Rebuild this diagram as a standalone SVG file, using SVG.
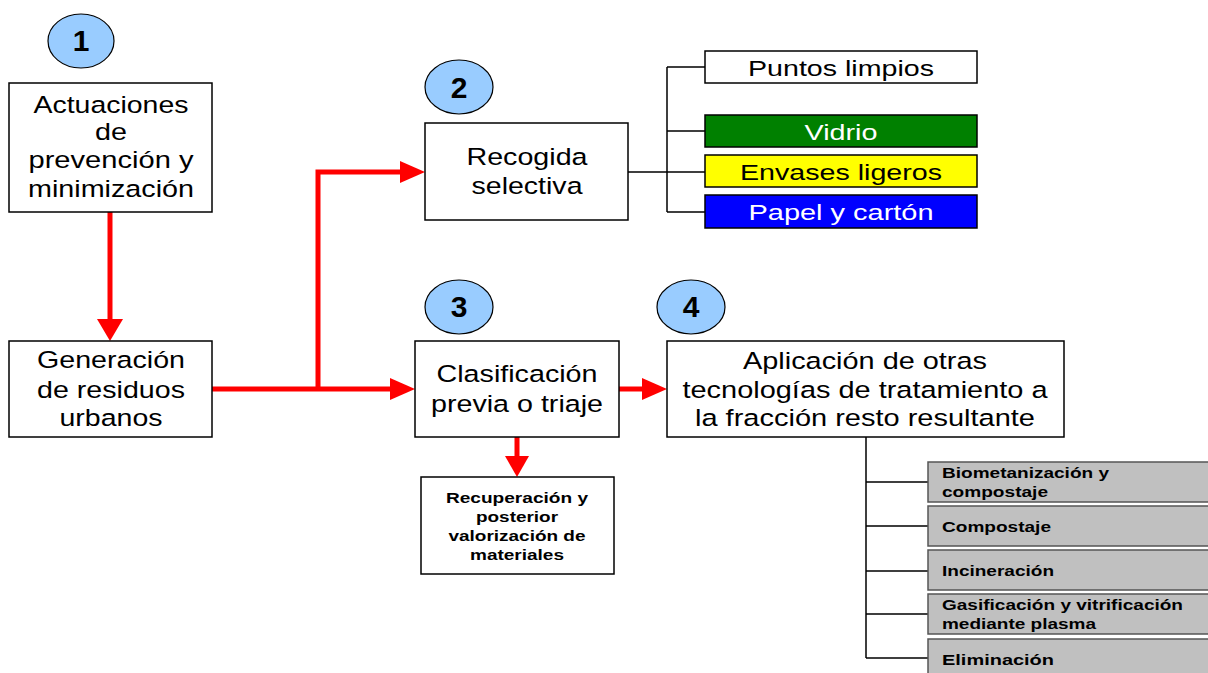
<svg xmlns="http://www.w3.org/2000/svg" width="1208" height="673" viewBox="0 0 1208 673">
<style>
.box{fill:#ffffff;stroke:#000000;stroke-width:1.5}
.num{fill:#99ccff;stroke:#000000;stroke-width:1.2}
.gray{fill:#c0c0c0;stroke:#555555;stroke-width:1.5}
.t{font-family:"Liberation Sans",Arial,sans-serif;font-size:24.5px;fill:#000000;text-anchor:middle}
.n{font-family:"Liberation Sans",Arial,sans-serif;font-size:30px;font-weight:bold;fill:#000000;text-anchor:middle}
.s{font-family:"Liberation Sans",Arial,sans-serif;font-size:15px;font-weight:bold;fill:#000000;text-anchor:middle}
.g{font-family:"Liberation Sans",Arial,sans-serif;font-size:15px;font-weight:bold;fill:#000000}
.red{fill:none;stroke:#ff0000;stroke-width:5}
.ah{fill:#ff0000}
.blk{fill:none;stroke:#000000;stroke-width:1.5}
</style>
<rect width="1208" height="673" fill="#ffffff"/>
<g id="connectors">
<path class="red" d="M110,212 V322"/>
<polygon class="ah" points="97,319 123,319 110,341"/>
<path class="red" d="M212,389 H393 M318,389 V172 H403"/>
<polygon class="ah" points="390,378 390,400 415,389"/>
<polygon class="ah" points="400,161 400,183 425,172"/>
<path class="red" d="M619,389 H645"/>
<polygon class="ah" points="642,378 642,400 667,389"/>
<path class="red" d="M517,437 V459"/>
<polygon class="ah" points="505,456 529,456 517,477"/>
<path class="blk" d="M628,172 H705 M667,67 V212 M667,67 H705 M667,131 H705 M667,212 H705"/>
<path class="blk" d="M866,437 V658 M866,482 H928 M866,526 H928 M866,571 H928 M866,614 H928 M866,658 H928"/>
</g>
<g id="badge1"><ellipse class="num" cx="81" cy="41" rx="33" ry="27"/><text class="n" x="81" y="51">1</text></g>
<g id="badge2"><ellipse class="num" cx="459" cy="87" rx="34" ry="27"/><text class="n" x="459" y="98">2</text></g>
<g id="badge3"><ellipse class="num" cx="459" cy="307" rx="34" ry="27"/><text class="n" x="459" y="317">3</text></g>
<g id="badge4"><ellipse class="num" cx="691" cy="307" rx="34" ry="27"/><text class="n" x="691" y="317">4</text></g>
<g id="actuaciones">
<rect class="box" x="9" y="83" width="203" height="129"/>
<text class="t" x="111" y="113" textLength="155" lengthAdjust="spacingAndGlyphs">Actuaciones</text>
<text class="t" x="111" y="140" textLength="32" lengthAdjust="spacingAndGlyphs">de</text>
<text class="t" x="111" y="168" textLength="165" lengthAdjust="spacingAndGlyphs">prevención y</text>
<text class="t" x="111" y="197" textLength="166" lengthAdjust="spacingAndGlyphs">minimización</text>
</g>
<g id="generacion">
<rect class="box" x="9" y="341" width="203" height="96"/>
<text class="t" x="111" y="368" textLength="148" lengthAdjust="spacingAndGlyphs">Generación</text>
<text class="t" x="111" y="398" textLength="148" lengthAdjust="spacingAndGlyphs">de residuos</text>
<text class="t" x="111" y="426" textLength="103" lengthAdjust="spacingAndGlyphs">urbanos</text>
</g>
<g id="recogida">
<rect class="box" x="425" y="123" width="203" height="97"/>
<text class="t" x="527" y="165" textLength="121" lengthAdjust="spacingAndGlyphs">Recogida</text>
<text class="t" x="527" y="194" textLength="111" lengthAdjust="spacingAndGlyphs">selectiva</text>
</g>
<g id="puntos">
<rect class="box" x="705" y="51" width="272" height="32"/>
<text class="t" x="841" y="76" style="font-size:22px" textLength="186" lengthAdjust="spacingAndGlyphs">Puntos limpios</text>
</g>
<g id="vidrio">
<rect x="705" y="115" width="272" height="32" fill="#008000" stroke="#000" stroke-width="1.5"/>
<text class="t" x="841" y="140" style="font-size:22px;fill:#ffffff" textLength="73" lengthAdjust="spacingAndGlyphs">Vidrio</text>
</g>
<g id="envases">
<rect x="705" y="155" width="272" height="32" fill="#ffff00" stroke="#000" stroke-width="1.5"/>
<text class="t" x="841" y="180" style="font-size:22px" textLength="202" lengthAdjust="spacingAndGlyphs">Envases ligeros</text>
</g>
<g id="papel">
<rect x="705" y="195" width="272" height="33" fill="#0000ff" stroke="#000" stroke-width="1.5"/>
<text class="t" x="841" y="220" style="font-size:22px;fill:#ffffff" textLength="185" lengthAdjust="spacingAndGlyphs">Papel y cartón</text>
</g>
<g id="clasificacion">
<rect class="box" x="415" y="341" width="204" height="96"/>
<text class="t" x="517" y="382" textLength="161" lengthAdjust="spacingAndGlyphs">Clasificación</text>
<text class="t" x="517" y="412" textLength="172" lengthAdjust="spacingAndGlyphs">previa o triaje</text>
</g>
<g id="recuperacion">
<rect class="box" x="421" y="477" width="193" height="97"/>
<text class="s" x="517" y="503" textLength="142" lengthAdjust="spacingAndGlyphs">Recuperación y</text>
<text class="s" x="517" y="522" textLength="82" lengthAdjust="spacingAndGlyphs">posterior</text>
<text class="s" x="517" y="541" textLength="137" lengthAdjust="spacingAndGlyphs">valorización de</text>
<text class="s" x="517" y="560" textLength="94" lengthAdjust="spacingAndGlyphs">materiales</text>
</g>
<g id="aplicacion">
<rect class="box" x="667" y="341" width="397" height="96"/>
<text class="t" x="865" y="369" textLength="244" lengthAdjust="spacingAndGlyphs">Aplicación de otras</text>
<text class="t" x="865" y="398" textLength="365" lengthAdjust="spacingAndGlyphs">tecnologías de tratamiento a</text>
<text class="t" x="865" y="426" textLength="340" lengthAdjust="spacingAndGlyphs">la fracción resto resultante</text>
</g>
<g id="biometanizacion">
<rect class="gray" x="928" y="462" width="290" height="40"/>
<text class="g" x="942" y="478" textLength="167" lengthAdjust="spacingAndGlyphs">Biometanización y</text>
<text class="g" x="942" y="497" textLength="106" lengthAdjust="spacingAndGlyphs">compostaje</text>
</g>
<g id="compostaje">
<rect class="gray" x="928" y="506" width="290" height="40"/>
<text class="g" x="942" y="532" textLength="109" lengthAdjust="spacingAndGlyphs">Compostaje</text>
</g>
<g id="incineracion">
<rect class="gray" x="928" y="550" width="290" height="40"/>
<text class="g" x="942" y="576" textLength="112" lengthAdjust="spacingAndGlyphs">Incineración</text>
</g>
<g id="gasificacion">
<rect class="gray" x="928" y="594" width="290" height="40"/>
<text class="g" x="942" y="610" textLength="241" lengthAdjust="spacingAndGlyphs">Gasificación y vitrificación</text>
<text class="g" x="942" y="629" textLength="154" lengthAdjust="spacingAndGlyphs">mediante plasma</text>
</g>
<g id="eliminacion">
<rect class="gray" x="928" y="639" width="290" height="40"/>
<text class="g" x="942" y="665" textLength="112" lengthAdjust="spacingAndGlyphs">Eliminación</text>
</g>
</svg>
